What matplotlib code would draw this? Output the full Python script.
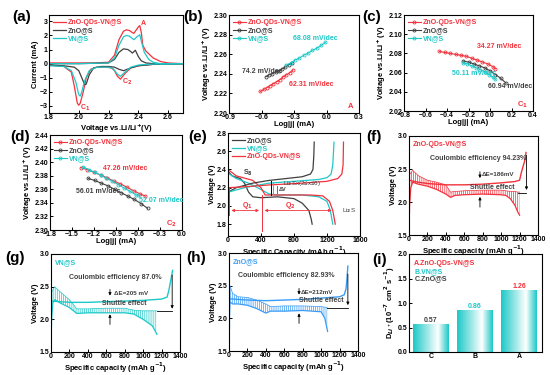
import numpy as np
import matplotlib
matplotlib.use("Agg")
import matplotlib.pyplot as plt
from matplotlib.colors import LinearSegmentedColormap

plt.rcParams['font.family'] = ['Liberation Sans', 'DejaVu Sans']
plt.rcParams['font.weight'] = 'bold'
plt.rcParams['axes.labelweight'] = 'bold'
plt.rcParams['font.size'] = 5
plt.rcParams['hatch.linewidth'] = 0.5

RED = '#f2323c'
GRAY = '#404040'
CYAN = '#1ec8c8'
BLUE = '#3a9cf5'

# (a) CV curves: cathodic branch then anodic branch
cv_red_x = [2.70, 2.60, 2.50, 2.45, 2.40, 2.35, 2.31, 2.28, 2.26, 2.24, 2.22, 2.18, 2.12, 2.08, 2.05, 2.03, 2.01, 2.00, 1.99, 1.97, 1.95, 1.90, 1.80,
            1.80, 1.90, 2.00, 2.10, 2.20, 2.24, 2.27, 2.30, 2.32, 2.34, 2.36, 2.37, 2.38, 2.40, 2.41, 2.42, 2.43, 2.45, 2.50, 2.55, 2.60, 2.70]
cv_red_y = [0.0, -0.02, -0.05, -0.1, -0.15, -0.3, -0.7, -1.1, -0.9, -0.5, -0.3, -0.25, -0.25, -0.4, -1.0, -2.0, -2.8, -2.95, -2.8, -1.6, -0.6, -0.2, -0.1,
            0.05, 0.05, 0.05, 0.05, 0.1, 0.6, 1.7, 2.3, 2.4, 2.35, 2.2, 2.15, 2.3, 2.6, 2.7, 2.2, 1.3, 0.9, 0.4, 0.15, 0.05, 0.0]
cv_gray_x = [2.70, 2.50, 2.40, 2.35, 2.30, 2.27, 2.24, 2.20, 2.15, 2.10, 2.07, 2.05, 2.04, 2.02, 2.00, 1.97, 1.90, 1.80,
             1.80, 2.00, 2.20, 2.24, 2.27, 2.30, 2.33, 2.35, 2.36, 2.38, 2.40, 2.42, 2.45, 2.50, 2.70]
cv_gray_y = [0.0, -0.05, -0.15, -0.3, -0.5, -0.4, -0.25, -0.2, -0.2, -0.3, -0.8, -1.45, -1.5, -1.0, -0.5, -0.25, -0.15, -0.1,
             0.0, 0.0, 0.05, 0.3, 0.8, 1.05, 1.0, 0.85, 0.75, 0.95, 0.5, 0.2, 0.05, 0.0, 0.0]
cv_cyan_x = [2.70, 2.50, 2.40, 2.35, 2.31, 2.28, 2.26, 2.23, 2.20, 2.12, 2.07, 2.04, 2.02, 2.01, 2.00, 1.98, 1.95, 1.90, 1.80,
             1.80, 2.00, 2.20, 2.24, 2.27, 2.30, 2.32, 2.34, 2.37, 2.39, 2.41, 2.42, 2.44, 2.47, 2.50, 2.55, 2.70]
cv_cyan_y = [0.0, -0.03, -0.1, -0.25, -0.6, -0.9, -0.75, -0.35, -0.25, -0.25, -0.5, -1.2, -2.0, -2.3, -2.2, -1.3, -0.5, -0.2, -0.15,
             0.0, 0.0, 0.05, 0.4, 1.3, 1.9, 2.0, 1.95, 1.7, 1.9, 2.05, 1.6, 0.8, 0.3, 0.1, 0.0, 0.0]

# (b) Tafel peak A
tb_red_x = [-0.61, -0.58, -0.55, -0.52, -0.49, -0.46, -0.43, -0.40, -0.37, -0.34, -0.31]
tb_red_y = [2.222, 2.224, 2.226, 2.228, 2.230, 2.232, 2.234, 2.237, 2.239, 2.241, 2.244]
tb_gray_x = [-0.56, -0.53, -0.50, -0.47, -0.44, -0.41, -0.38, -0.35, -0.32]
tb_gray_y = [2.237, 2.239, 2.240, 2.242, 2.243, 2.245, 2.247, 2.249, 2.251]
tb_cyan_x = [-0.37, -0.33, -0.29, -0.25, -0.21, -0.17, -0.13, -0.09, -0.05, -0.01]
tb_cyan_y = [2.249, 2.251, 2.254, 2.256, 2.259, 2.261, 2.264, 2.266, 2.269, 2.272]

# (c) Tafel peak C1
tc_red_x = [-0.47, -0.42, -0.37, -0.32, -0.27, -0.22, -0.17, -0.12, -0.07, -0.02, 0.03, 0.05]
tc_red_y = [2.082, 2.081, 2.080, 2.079, 2.078, 2.077, 2.075, 2.073, 2.071, 2.069, 2.066, 2.064]
tc_gray_x = [-0.25, -0.20, -0.15, -0.10, -0.05, 0.00, 0.05, 0.10, 0.15]
tc_gray_y = [2.072, 2.071, 2.069, 2.067, 2.065, 2.062, 2.058, 2.054, 2.049]
tc_cyan_x = [-0.25, -0.21, -0.17, -0.13, -0.09, -0.05, -0.01, 0.03, 0.05]
tc_cyan_y = [2.070, 2.069, 2.067, 2.065, 2.063, 2.061, 2.058, 2.055, 2.053]

# (d) Tafel peak C2
td_red_x = [-1.38, -1.29, -1.20, -1.11, -1.02, -0.93, -0.84, -0.75, -0.66, -0.57, -0.50]
td_red_y = [2.392, 2.389, 2.385, 2.381, 2.377, 2.372, 2.368, 2.363, 2.358, 2.353, 2.350]
td_gray_x = [-1.28, -1.19, -1.10, -1.01, -0.92, -0.83, -0.74, -0.65, -0.56, -0.47]
td_gray_y = [2.376, 2.373, 2.369, 2.365, 2.360, 2.355, 2.350, 2.345, 2.339, 2.332]
td_cyan_x = [-1.35, -1.27, -1.19, -1.11, -1.03, -0.95, -0.87, -0.79, -0.71, -0.63, -0.60]
td_cyan_y = [2.393, 2.389, 2.385, 2.381, 2.376, 2.372, 2.367, 2.362, 2.357, 2.352, 2.351]

# (e) charge / discharge profiles
e_dis_gray_x = [0, 50, 150, 200, 250, 300, 400, 600, 800, 900, 980, 1010, 1020]
e_dis_gray_y = [2.38, 2.33, 2.30, 2.25, 2.15, 2.10, 2.09, 2.10, 2.08, 2.03, 1.95, 1.85, 1.80]
e_dis_cyan_x = [0, 100, 250, 400, 500, 600, 900, 1100, 1200, 1240, 1260, 1270]
e_dis_cyan_y = [2.36, 2.30, 2.25, 2.18, 2.13, 2.12, 2.12, 2.10, 2.05, 1.95, 1.85, 1.80]
e_dis_red_x = [0, 100, 300, 400, 450, 600, 1000, 1150, 1230, 1270, 1290, 1300]
e_dis_red_y = [2.40, 2.33, 2.28, 2.20, 2.12, 2.12, 2.12, 2.11, 2.05, 1.95, 1.85, 1.80]
e_ch_gray_x = [0, 100, 300, 500, 700, 900, 1000, 1030, 1040, 1045]
e_ch_gray_y = [2.15, 2.20, 2.25, 2.28, 2.30, 2.32, 2.35, 2.40, 2.55, 2.70]
e_ch_cyan_x = [0, 200, 500, 800, 1100, 1200, 1250, 1270, 1285]
e_ch_cyan_y = [2.15, 2.20, 2.25, 2.27, 2.29, 2.31, 2.35, 2.45, 2.70]
e_ch_red_x = [0, 200, 500, 900, 1200, 1330, 1380, 1395, 1400]
e_ch_red_y = [2.20, 2.21, 2.23, 2.25, 2.27, 2.30, 2.35, 2.45, 2.70]

# (f)-(h) shuttle tests: charge line, discharge band (low / high)
f_ch_x = [0, 100, 200, 400, 600, 800, 1000, 1150, 1200, 1220, 1240, 1255, 1270]
f_ch_y = [2.33, 2.30, 2.28, 2.26, 2.26, 2.27, 2.29, 2.31, 2.33, 2.45, 2.55, 2.62, 2.75]
f_dis_x = [0, 20, 40, 100, 200, 300, 400, 450, 500, 600, 800, 1000, 1050, 1100, 1150, 1180, 1200]
f_dis_lo = [1.85, 2.22, 2.30, 2.27, 2.24, 2.19, 2.12, 2.07, 2.10, 2.11, 2.12, 2.11, 2.10, 2.05, 1.95, 1.85, 1.80]
f_dis_hi = [2.40, 2.44, 2.48, 2.40, 2.33, 2.30, 2.26, 2.15, 2.16, 2.17, 2.18, 2.18, 2.17, 2.16, 2.16, 2.15, 2.15]

g_ch_x = [0, 100, 200, 400, 600, 800, 1000, 1200, 1260, 1280, 1300, 1320]
g_ch_y = [2.28, 2.27, 2.26, 2.26, 2.27, 2.28, 2.29, 2.31, 2.34, 2.45, 2.60, 2.75]
g_dis_x = [0, 20, 40, 100, 200, 280, 400, 600, 800, 900, 1000, 1100, 1150]
g_dis_lo = [1.90, 2.25, 2.30, 2.25, 2.18, 2.09, 2.10, 2.10, 2.10, 2.08, 2.00, 1.90, 1.77]
g_dis_hi = [2.40, 2.45, 2.50, 2.42, 2.30, 2.16, 2.16, 2.17, 2.17, 2.14, 2.13, 2.13, 2.13]

h_ch_x = [0, 100, 200, 400, 600, 800, 1000, 1200, 1250, 1270, 1280, 1290]
h_ch_y = [2.30, 2.29, 2.28, 2.27, 2.28, 2.29, 2.31, 2.33, 2.36, 2.45, 2.60, 2.80]
h_dis_x = [0, 10, 40, 100, 200, 300, 400, 450, 600, 800, 1000, 1040, 1070]
h_dis_lo = [1.85, 2.25, 2.22, 2.22, 2.20, 2.15, 2.08, 2.11, 2.11, 2.12, 2.10, 2.00, 1.80]
h_dis_hi = [2.40, 2.50, 2.38, 2.33, 2.32, 2.28, 2.22, 2.18, 2.19, 2.19, 2.18, 2.17, 2.16]

# (i) diffusion coefficients
i_labels = ['C', 'B', 'A']
i_values = [0.57, 0.86, 1.26]
i_colors = [GRAY, CYAN, RED]


def setup(ax):
    ax.tick_params(direction='in', length=2, width=0.7, labelsize=5, pad=1)
    for s in ax.spines.values():
        s.set_linewidth(0.8)
    ax.xaxis.labelpad = 0
    ax.yaxis.labelpad = 0.5


def px_axes(fig, l, t, r, b):
    W, H = 550.0, 375.0
    return fig.add_axes([l / W, 1 - b / H, (r - l) / W, (b - t) / H])


def color_legend(ax, handles, labels, colors, **kw):
    leg = ax.legend(handles, labels, frameon=False, fontsize=5, handlelength=1.8,
                    handletextpad=0.3, labelspacing=0.15, borderaxespad=0.2, **kw)
    for t, c in zip(leg.get_texts(), colors):
        t.set_color(c)
    return leg


fig = plt.figure(figsize=(5.5, 3.75), dpi=100)

# (a)
ax = px_axes(fig, 49, 15, 183, 113)
setup(ax)
la, = ax.plot(cv_red_x, cv_red_y, color=RED, lw=0.9)
lb, = ax.plot(cv_gray_x, cv_gray_y, color=GRAY, lw=0.9)
lc, = ax.plot(cv_cyan_x, cv_cyan_y, color=CYAN, lw=0.9)
ax.set_xlim(1.8, 2.7)
ax.set_ylim(-3.5, 3.45)
ax.set_xticks([1.8, 2.0, 2.2, 2.4, 2.6])
ax.set_yticks([-3, -2, -1, 0, 1, 2, 3])
ax.set_xlabel('Voltage vs.Li/Li$^{\\mathbf{+}}$(V)', fontsize=5.5)
ax.set_ylabel('Current (mA)', fontsize=5.5)
color_legend(ax, [la, lb, lc], ['ZnO-QDs-VN@S', 'ZnO@S', 'VN@S'], [RED, GRAY, CYAN], loc='upper left')
ax.text(2.42, 2.75, 'A', color=RED, fontsize=5)
ax.text(2.29, -1.45, 'C$_2$', color=RED, fontsize=5)
ax.text(2.01, -3.3, 'C$_1$', color=RED, fontsize=5)


def tafel(ax, data, xlim, ylim, xt, yt, tag):
    setup(ax)
    hs = []
    for (x, y, c) in data:
        h, = ax.plot(x, y, color=c, lw=0.8, marker='o', ms=2.2, mfc='none', mew=0.6)
        hs.append(h)
    ax.set_xlim(*xlim)
    ax.set_ylim(*ylim)
    ax.set_xticks(xt)
    ax.set_yticks(yt)
    ax.set_xlabel('Log|j| (mA)', fontsize=5.5)
    ax.set_ylabel('Voltage vs.Li/Li$^{\\mathbf{+}}$ (V)', fontsize=5.5)
    color_legend(ax, hs, ['ZnO-QDs-VN@S', 'ZnO@S', 'VN@S'], [RED, GRAY, CYAN], loc='upper left')
    ax.text(0.96, 0.05, tag, color=RED, transform=ax.transAxes, ha='right', fontsize=5.5)


# (b)
ax = px_axes(fig, 229, 15, 359, 113)
tafel(ax, [(tb_red_x, tb_red_y, RED), (tb_gray_x, tb_gray_y, GRAY), (tb_cyan_x, tb_cyan_y, CYAN)],
      (-0.9, 0.3), (2.20, 2.30), [-0.9, -0.6, -0.3, 0.0, 0.3], [2.20, 2.22, 2.24, 2.26, 2.28, 2.30], 'A')
ax.set_yticklabels(['2.20', '2.22', '2.24', '2.26', '2.28', '2.30'])
ax.text(-0.31, 2.274, '68.08 mV/dec', color=CYAN, fontsize=5)
ax.text(-0.78, 2.241, '74.2 mV/dec', color=GRAY, fontsize=5)
ax.text(-0.35, 2.228, '62.31 mV/dec', color=RED, fontsize=5)

# (c)
ax = px_axes(fig, 404, 15, 533, 111)
tafel(ax, [(tc_red_x, tc_red_y, RED), (tc_gray_x, tc_gray_y, GRAY), (tc_cyan_x, tc_cyan_y, CYAN)],
      (-0.8, 0.4), (2.02, 2.12), [-0.8, -0.6, -0.4, -0.2, 0.0, 0.2, 0.4], [2.02, 2.04, 2.06, 2.08, 2.10, 2.12], 'C$_1$')
ax.text(-0.12, 2.086, '34.27 mV/dec', color=RED, fontsize=5)
ax.text(-0.35, 2.057, '50.11 mV/dec', color=CYAN, fontsize=5)
ax.text(-0.02, 2.044, '60.94 mV/dec', color=GRAY, fontsize=5)

# (d)
ax = px_axes(fig, 50, 135, 182, 230)
tafel(ax, [(td_red_x, td_red_y, RED), (td_gray_x, td_gray_y, GRAY), (td_cyan_x, td_cyan_y, CYAN)],
      (-1.8, 0.0), (2.30, 2.44), [-1.8, -1.5, -1.2, -0.9, -0.6, -0.3, 0.0],
      [2.30, 2.32, 2.34, 2.36, 2.38, 2.40, 2.42, 2.44], 'C$_2$')
ax.text(-1.08, 2.389, '47.26 mV/dec', color=RED, fontsize=5)
ax.text(-1.45, 2.355, '56.01 mV/dec', color=GRAY, fontsize=5)
ax.text(-0.58, 2.342, '52.07 mV/dec', color=CYAN, fontsize=5)

# (e)
ax = px_axes(fig, 228, 133, 360, 236)
setup(ax)
ax.plot(e_dis_gray_x, e_dis_gray_y, color=GRAY, lw=0.9)
ax.plot(e_dis_cyan_x, e_dis_cyan_y, color=CYAN, lw=0.9)
ax.plot(e_dis_red_x, e_dis_red_y, color=RED, lw=0.9)
h1, = ax.plot(e_ch_gray_x, e_ch_gray_y, color=GRAY, lw=0.9)
h2, = ax.plot(e_ch_cyan_x, e_ch_cyan_y, color=CYAN, lw=0.9)
h3, = ax.plot(e_ch_red_x, e_ch_red_y, color=RED, lw=0.9)
ax.set_xlim(0, 1600)
ax.set_ylim(1.67, 2.8)
ax.set_xticks([0, 400, 800, 1200, 1600])
ax.set_yticks([1.8, 2.0, 2.2, 2.4, 2.6, 2.8])
ax.set_xlabel('Specific Capacity (mAh g$^{\\mathbf{-1}}$)', fontsize=5.5)
ax.set_ylabel('Voltage (V)', fontsize=5.5)
color_legend(ax, [h1, h2, h3], ['ZnO@S', 'VN@S', 'ZnO-QDs-VN@S'], [GRAY, CYAN, RED], loc='upper left')
ax.plot([8, 8], [1.9, 2.2], color=RED, lw=0.7)
ax.plot([410, 410], [1.72, 2.12], color=RED, lw=0.7)
ax.annotate('', xy=(8, 1.95), xytext=(410, 1.95), arrowprops=dict(arrowstyle='<|-|>', color=RED, lw=0.6, mutation_scale=4))
ax.annotate('', xy=(410, 1.95), xytext=(1290, 1.95), arrowprops=dict(arrowstyle='<|-|>', color=RED, lw=0.6, mutation_scale=4))
ax.text(170, 1.99, 'Q$_1$', color=RED, fontsize=5)
ax.text(690, 1.99, 'Q$_2$', color=RED, fontsize=5)
ax.text(180, 2.34, 'S$_8$', color=GRAY, fontsize=5)
ax.text(670, 2.25, 'Li$_2$Sx(2≤x≤6)', color=GRAY, fontsize=4.5, fontweight='normal', va='center')
ax.text(1380, 1.95, 'Li$_2$S', color=GRAY, fontsize=4.5, fontweight='normal', va='center')
ax.plot([518, 518], [2.12, 2.27], color='k', lw=0.7)
ax.plot([548, 548], [2.13, 2.25], color=CYAN, lw=0.7)
ax.plot([595, 595], [2.14, 2.22], color=RED, lw=0.7)
ax.text(612, 2.18, 'ΔV', color=GRAY, fontsize=4, va='center')


def shuttle(ax, ch_x, ch_y, dis_x, lo, hi, c, name, ce, de, arrow_x, l_x, l_y, l_top, se_xy, ce_xy, de_xy):
    setup(ax)
    ax.fill_between(dis_x, lo, hi, facecolor='none', edgecolor=c, hatch='|' * 8, lw=0)
    ax.plot(dis_x, lo, color=c, lw=0.9)
    ax.plot(dis_x, hi, color=c, lw=0.5)
    ax.plot([dis_x[0], dis_x[0]], [lo[0], hi[0]], color=c, lw=0.9)
    ax.plot(ch_x, ch_y, color=c, lw=1.0)
    ax.set_xlim(0, 1400)
    ax.set_ylim(1.5, 3.0)
    ax.set_xticks([0, 200, 400, 600, 800, 1000, 1200, 1400])
    ax.set_yticks([1.5, 2.0, 2.5, 3.0])
    ax.set_xlabel('Specific capacity (mAh g$^{\\mathbf{-1}}$)', fontsize=5.5)
    ax.set_ylabel('Voltage (V)', fontsize=5.5)
    ax.text(0.03, 0.95, name, color=c, transform=ax.transAxes, va='top', fontsize=5)
    ax.text(ce_xy[0], ce_xy[1], 'Coulombic efficiency ' + ce, color=GRAY, fontsize=5, ha='center')
    ax.text(de_xy[0], de_xy[1], 'ΔE=' + de, color=GRAY, fontsize=4.5)
    ax.text(se_xy[0], se_xy[1], 'Shuttle effect', color=GRAY, fontsize=5, ha='center')
    ax.annotate('', xy=(arrow_x, 2.32), xytext=(arrow_x, 2.5),
                arrowprops=dict(arrowstyle='-|>', color='k', lw=0.6, mutation_scale=4))
    ax.annotate('', xy=(arrow_x, 2.12), xytext=(arrow_x, 1.88),
                arrowprops=dict(arrowstyle='-|>', color='k', lw=0.6, mutation_scale=4))
    ax.plot([l_x[0], l_x[1]], [l_y, l_y], color='k', lw=0.6)
    ax.annotate('', xy=(l_x[1], l_y), xytext=(l_x[1], l_top),
                arrowprops=dict(arrowstyle='-|>', color='k', lw=0.6, mutation_scale=4))


# (f)
ax = px_axes(fig, 409, 136, 538, 235)
shuttle(ax, f_ch_x, f_ch_y, f_dis_x, f_dis_lo, f_dis_hi, RED, 'ZnO-QDs-VN@S', '94.23%', '186mV',
        770, (1180, 1275), 2.14, 2.75, (900, 2.2), (750, 2.64), (790, 2.4))

# (g)
ax = px_axes(fig, 51, 254, 180, 352)
shuttle(ax, g_ch_x, g_ch_y, g_dis_x, g_dis_lo, g_dis_hi, CYAN, 'VN@S', '87.0%', '205 mV',
        640, (1150, 1315), 2.12, 2.72, (800, 2.22), (700, 2.62), (680, 2.38))

# (h)
ax = px_axes(fig, 229, 253, 358, 351)
shuttle(ax, h_ch_x, h_ch_y, h_dis_x, h_dis_lo, h_dis_hi, BLUE, 'ZnO@S', '82.93%', '212mV',
        760, (1060, 1290), 2.16, 2.72, (1000, 2.25), (620, 2.64), (780, 2.38))

# (i)
ax = px_axes(fig, 409, 254, 542, 352)
setup(ax)
xpos = np.arange(len(i_values))
bars = ax.bar(xpos, i_values, width=0.8, color='none', edgecolor='none')
cmap = LinearSegmentedColormap.from_list('grad', [(0, CYAN), (0.7, 'white'), (1, CYAN)])
grad = np.linspace(0, 1, 64).reshape(1, -1)
for b in bars:
    x0, w, hgt = b.get_x(), b.get_width(), b.get_height()
    im = ax.imshow(grad, extent=[x0, x0 + w, 0, hgt], aspect='auto', cmap=cmap, zorder=2)
    im.set_clip_path(b)
for x, v, c in zip(xpos, i_values, i_colors):
    ax.text(x, v + 0.04, '%.2f' % v, color=c, ha='center', fontsize=5)
ax.set_xlim(-0.5, 2.52)
ax.set_ylim(0, 2.0)
ax.set_xticks(xpos)
ax.set_xticklabels(i_labels)
ax.set_yticks([0.0, 0.5, 1.0, 1.5, 2.0])
ax.set_ylabel('D$_{Li^+}$(10$^{-7}$ cm$^2$ s$^{-1}$)', fontsize=5.5)
ax.text(0.04, 0.94, 'A.ZnO-QDs-VN@S', color=RED, transform=ax.transAxes, va='top', fontsize=5)
ax.text(0.04, 0.86, 'B.VN@S', color=CYAN, transform=ax.transAxes, va='top', fontsize=5)
ax.text(0.04, 0.78, 'C.ZnO@S', color=GRAY, transform=ax.transAxes, va='top', fontsize=5)

# panel letters
for lab, x, y in [('(a)', 12, 17), ('(b)', 183, 17), ('(c)', 362, 17),
                  ('(d)', 10, 137), ('(e)', 188, 137), ('(f)', 366, 137),
                  ('(g)', 5, 258), ('(h)', 186, 258), ('(i)', 372, 260)]:
    fig.text(x / 550.0, 1 - y / 375.0, lab, fontsize=11, fontweight='bold', va='center')

fig.savefig('out.png', dpi=100)
